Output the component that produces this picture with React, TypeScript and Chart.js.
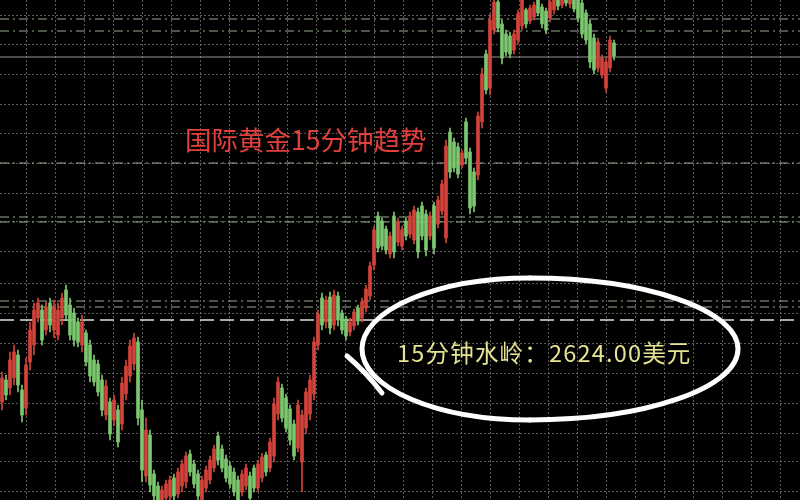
import React, { useEffect, useRef } from "react";
import { Chart, registerables } from "chart.js";

Chart.register(...registerables);

// ---- Data (15-minute gold candles, USD/oz) ----
const opens = [
  2615.8, 2618.0, 2617.2, 2618.2, 2620.5, 2617.0, 2615.2, 2619.8, 2621.5, 2624.2,
  2625.0, 2623.0, 2625.7, 2623.0, 2622.5, 2624.2, 2627.0, 2625.5, 2624.7, 2623.8,
  2621.5, 2622.7, 2621.5, 2620.0, 2619.6, 2618.0, 2614.5, 2615.8, 2614.0, 2615.0,
  2613.6, 2616.6, 2618.4, 2619.6, 2621.8, 2615.0, 2608.4, 2612.5, 2608.6, 2607.4,
  2605.8, 2606.2, 2606.4, 2608.2, 2606.6, 2607.4, 2607.8, 2610.6, 2609.6, 2608.6,
  2606.0, 2607.2, 2608.0, 2609.2, 2612.4, 2611.1, 2610.1, 2609.4, 2608.8, 2608.0,
  2606.8, 2607.4, 2608.4, 2609.2, 2607.2, 2608.2, 2610.5, 2609.2, 2610.4, 2614.6,
  2617.2, 2616.2, 2615.1, 2613.6, 2611.2, 2609.8, 2613.2, 2614.6, 2616.6, 2621.5,
  2626.2, 2623.8, 2626.3, 2623.5, 2626.4, 2624.7, 2624.1, 2622.8, 2623.4, 2625.2,
  2624.2, 2625.2, 2626.4, 2629.5, 2634.4, 2633.9, 2633.1, 2630.6, 2634.4, 2631.8,
  2631.4, 2633.9, 2632.6, 2632.0, 2634.8, 2635.4, 2634.6, 2632.4, 2635.4, 2633.6,
  2634.9, 2632.2, 2642.8, 2641.8, 2641.3, 2639.5, 2643.8, 2640.8, 2638.8, 2638.5,
  2643.8, 2650.6, 2647.2, 2653.0, 2655.8, 2653.6, 2652.6, 2652.4, 2651.0, 2652.0,
  2653.4, 2655.0, 2653.9, 2654.3, 2656.0, 2655.3, 2654.9, 2654.2, 2655.0, 2656.4,
  2655.5, 2656.6, 2655.6, 2656.4, 2656.0, 2655.7, 2654.7, 2653.6, 2652.2, 2649.2,
  2648.5, 2647.2, 2649.2, 2651.7,
];
const highs = [
  2618.8, 2618.5, 2620.8, 2621.5, 2621.0, 2617.5, 2620.2, 2623.8, 2625.7, 2626.2,
  2625.5, 2625.8, 2626.2, 2626.0, 2625.7, 2626.7, 2627.5, 2626.2, 2625.2, 2624.2,
  2624.5, 2623.0, 2622.0, 2620.5, 2620.0, 2618.5, 2618.0, 2616.2, 2616.5, 2615.5,
  2618.3, 2620.0, 2622.0, 2622.7, 2622.3, 2616.0, 2614.2, 2613.0, 2609.0, 2607.8,
  2607.4, 2608.0, 2608.4, 2608.6, 2609.2, 2610.0, 2610.8, 2611.0, 2610.0, 2609.0,
  2608.4, 2609.4, 2610.4, 2611.5, 2612.8, 2611.5, 2610.5, 2609.8, 2609.2, 2608.4,
  2609.0, 2609.6, 2608.8, 2609.5, 2610.0, 2610.7, 2610.8, 2612.2, 2616.2, 2618.3,
  2617.6, 2616.6, 2615.5, 2614.0, 2616.0, 2615.0, 2617.2, 2618.5, 2622.3, 2625.0,
  2626.7, 2626.4, 2626.8, 2627.0, 2626.8, 2625.0, 2624.4, 2624.2, 2625.1, 2625.5,
  2626.2, 2627.5, 2629.8, 2633.4, 2634.8, 2634.2, 2633.4, 2632.8, 2634.8, 2634.2,
  2633.4, 2634.2, 2634.8, 2635.4, 2635.2, 2635.8, 2635.0, 2634.8, 2635.8, 2636.4,
  2638.0, 2642.0, 2643.2, 2642.2, 2641.7, 2641.0, 2644.2, 2641.2, 2639.2, 2644.8,
  2649.2, 2651.0, 2654.6, 2656.5, 2656.2, 2654.0, 2653.0, 2652.8, 2653.0, 2655.0,
  2656.4, 2655.2, 2655.5, 2655.8, 2656.4, 2655.6, 2655.2, 2656.2, 2656.6, 2656.8,
  2656.8, 2657.0, 2657.0, 2656.8, 2656.4, 2656.0, 2655.0, 2654.0, 2652.6, 2652.2,
  2650.5, 2650.2, 2652.4, 2652.0,
];
const lows = [
  2615.0, 2616.0, 2616.5, 2617.5, 2616.8, 2613.8, 2614.5, 2619.0, 2620.5, 2623.8,
  2621.5, 2622.5, 2622.8, 2622.2, 2622.0, 2623.5, 2624.0, 2622.0, 2621.4, 2621.3,
  2620.8, 2619.4, 2617.8, 2617.4, 2616.4, 2614.4, 2614.0, 2612.0, 2613.4, 2611.3,
  2613.0, 2616.0, 2617.8, 2619.0, 2613.5, 2607.8, 2607.8, 2606.8, 2606.0, 2605.5,
  2605.5, 2605.7, 2606.0, 2606.0, 2606.2, 2606.8, 2607.2, 2608.4, 2607.2, 2606.0,
  2605.5, 2606.8, 2607.6, 2608.8, 2609.5, 2608.8, 2607.8, 2607.2, 2606.4, 2605.6,
  2606.4, 2607.0, 2605.8, 2606.8, 2606.8, 2607.8, 2608.4, 2608.8, 2609.8, 2614.0,
  2613.8, 2612.8, 2611.5, 2610.0, 2610.8, 2606.8, 2612.6, 2614.0, 2616.0, 2621.0,
  2623.0, 2623.2, 2622.6, 2623.0, 2623.4, 2622.6, 2622.0, 2622.4, 2623.0, 2623.5,
  2623.8, 2624.8, 2626.0, 2629.0, 2630.8, 2631.0, 2630.6, 2630.2, 2630.2, 2631.4,
  2631.0, 2632.0, 2632.2, 2631.6, 2630.2, 2632.0, 2630.4, 2632.0, 2630.6, 2633.2,
  2634.5, 2631.7, 2638.2, 2638.8, 2638.2, 2639.2, 2639.6, 2634.6, 2634.8, 2638.0,
  2643.2, 2646.6, 2646.5, 2652.6, 2652.8, 2649.6, 2650.4, 2650.2, 2650.6, 2651.6,
  2653.0, 2653.2, 2653.6, 2654.0, 2654.4, 2653.2, 2652.6, 2653.8, 2654.6, 2655.0,
  2655.2, 2655.4, 2655.2, 2654.8, 2653.8, 2652.2, 2651.6, 2649.2, 2648.6, 2648.8,
  2648.2, 2646.8, 2648.8, 2650.0,
];
const closes = [
  2618.2, 2616.5, 2620.0, 2620.8, 2617.5, 2614.5, 2619.5, 2623.0, 2625.0, 2625.7,
  2622.0, 2625.3, 2623.5, 2625.4, 2625.0, 2626.2, 2624.5, 2622.5, 2622.0, 2621.8,
  2623.8, 2619.8, 2618.4, 2617.8, 2616.8, 2615.0, 2617.4, 2612.6, 2616.0, 2611.8,
  2617.7, 2619.4, 2621.4, 2622.2, 2614.2, 2609.0, 2613.0, 2607.5, 2606.4, 2606.0,
  2607.0, 2607.6, 2608.0, 2606.4, 2608.8, 2609.6, 2610.4, 2608.8, 2607.6, 2606.4,
  2608.0, 2609.0, 2610.0, 2611.1, 2610.0, 2609.2, 2608.2, 2607.6, 2606.8, 2606.0,
  2608.6, 2609.2, 2606.2, 2607.2, 2609.6, 2610.3, 2608.8, 2611.8, 2615.6, 2617.8,
  2614.2, 2613.2, 2612.0, 2610.4, 2615.5, 2614.5, 2616.8, 2618.0, 2621.8, 2624.6,
  2623.5, 2626.0, 2623.2, 2626.5, 2624.0, 2623.0, 2622.4, 2623.8, 2624.8, 2623.9,
  2625.8, 2627.1, 2629.4, 2633.0, 2631.2, 2631.4, 2631.0, 2632.4, 2630.8, 2633.8,
  2633.0, 2632.4, 2634.4, 2635.0, 2630.8, 2632.4, 2631.0, 2634.4, 2631.2, 2636.0,
  2637.6, 2641.4, 2638.8, 2639.2, 2638.6, 2640.7, 2640.2, 2635.2, 2635.4, 2644.4,
  2648.6, 2647.0, 2654.0, 2655.8, 2653.2, 2650.2, 2650.8, 2650.6, 2652.6, 2654.6,
  2656.0, 2653.6, 2655.2, 2655.5, 2654.7, 2653.6, 2653.0, 2655.8, 2656.2, 2655.4,
  2656.4, 2655.7, 2656.6, 2655.1, 2654.2, 2652.6, 2652.0, 2649.8, 2649.0, 2651.8,
  2650.2, 2649.8, 2652.0, 2650.4,
];

// Horizontal reference levels drawn on the chart
const dashDotLevels = [2654.1, 2652.9, 2639.7, 2634.3, 2633.8, 2625.9, 2625.3];
const solidLevels = [2650.3];
const keyLevel = 2624.0;

// Grid positions (price and bar-index units)
const yGridValues = [
  2654.5, 2651.5, 2648.6, 2645.6, 2642.7, 2639.7, 2636.7, 2633.8, 2630.8,
  2627.7, 2624.7, 2621.7, 2618.7, 2615.7, 2612.7, 2609.8, 2606.8,
];
const xGridValues = [
  2.5, 9.75, 17, 24.25, 31.5, 38.75, 46, 53.25, 60.5, 67.75, 75, 82.25, 89.5,
  96.75, 104, 111.25, 118.5, 125.75, 133, 140.25, 147.5, 154.75, 162, 169.25,
  176.5, 183.75, 191, 198.25,
];

const titleText = "国际黄金15分钟趋势";
const noteText = "15分钟水岭：2624.00美元";

const X_MIN = -0.5;
const X_MAX = 199.5;
const Y_MIN = 2606;
const Y_MAX = 2656;

const UP = "#d4433b";
const DOWN = "#7cc86e";

export default function App() {
  const ref = useRef<HTMLCanvasElement | null>(null);

  useEffect(() => {
    const canvas = ref.current;
    if (!canvas) return;
    const idx = opens.map((_, i) => i);
    const colors = idx.map((i) => (closes[i] >= opens[i] ? UP : DOWN));

    const hLine = (v: number, color: string, dash: number[], width: number, label: string) => ({
      type: "line" as const,
      label,
      data: [
        { x: X_MIN, y: v },
        { x: X_MAX, y: v },
      ],
      borderColor: color,
      borderDash: dash,
      borderWidth: width,
      pointRadius: 0,
      order: 5,
    });

    const bg = {
      id: "bg",
      beforeDraw(chart: any) {
        const c = chart.ctx;
        c.save();
        c.fillStyle = "#000";
        c.fillRect(0, 0, chart.width, chart.height);
        c.restore();
      },
    };

    const notes = {
      id: "notes",
      afterDraw(chart: any) {
        const c = chart.ctx;
        c.save();
        c.textBaseline = "middle";
        c.fillStyle = "#e2403c";
        c.font = '26.5px "Noto Sans CJK SC"';
        c.fillText(titleText, 185, 140);

        c.strokeStyle = "#ffffff";
        c.lineWidth = 5;
        c.lineCap = "round";
        // right half (rounder, wider) and left half (narrower)
        c.beginPath();
        c.ellipse(530, 349, 208, 71, 0, -Math.PI / 2, Math.PI / 2);
        c.stroke();
        c.beginPath();
        c.ellipse(530, 349, 168, 71, 0, Math.PI / 2, Math.PI * 1.5);
        c.stroke();
        c.beginPath();
        c.moveTo(347, 356);
        c.quadraticCurveTo(366, 372, 382, 393);
        c.stroke();

        c.fillStyle = "#e6e394";
        c.font = '23.5px "Noto Sans CJK SC"';
        try {
          (c as any).letterSpacing = "1.2px";
        } catch (e) {}
        c.fillText(noteText, 397, 353);
        c.restore();
      },
    };

    const chart = new Chart(canvas, {
      type: "bar",
      data: {
        datasets: [
          {
            type: "bar",
            label: "影线",
            data: idx.map((i) => ({ x: i, y: [lows[i], highs[i]] })) as any,
            backgroundColor: colors,
            barThickness: 1,
            grouped: false,
            order: 2,
          } as any,
          {
            type: "bar",
            label: "实体",
            data: idx.map((i) => ({ x: i, y: [opens[i], closes[i]] })) as any,
            backgroundColor: colors,
            barThickness: 3,
            minBarLength: 1,
            grouped: false,
            order: 1,
          } as any,
          ...dashDotLevels.map((v) => hLine(v, "rgba(175,205,165,0.85)", [9, 4, 2, 4], 1.2, "level")),
          ...solidLevels.map((v) => hLine(v, "rgba(185,185,185,0.8)", [], 1, "level")),
          hLine(keyLevel, "rgba(235,235,235,0.95)", [14, 6], 1.5, "2624"),
        ] as any,
      },
      options: {
        animation: false,
        responsive: false,
        maintainAspectRatio: false,
        layout: { padding: 0 },
        plugins: {
          legend: { display: false },
          tooltip: { enabled: false },
          title: { display: false },
        },
        scales: {
          x: {
            type: "linear",
            min: X_MIN,
            max: X_MAX,
            offset: false,
            afterBuildTicks: (s: any) => {
              s.ticks = xGridValues.map((v) => ({ value: v }));
            },
            ticks: { display: false },
            grid: { color: "rgba(150,150,150,0.6)", drawTicks: false, lineWidth: 1 },
            border: { display: false, dash: [2, 2] },
          },
          y: {
            type: "linear",
            min: Y_MIN,
            max: Y_MAX,
            afterBuildTicks: (s: any) => {
              s.ticks = yGridValues.map((v) => ({ value: v }));
            },
            ticks: { display: false },
            grid: { color: "rgba(150,150,150,0.6)", drawTicks: false, lineWidth: 1 },
            border: { display: false, dash: [2, 2] },
          },
        },
      } as any,
      plugins: [bg, notes],
    });
    return () => chart.destroy();
  }, []);

  return (
    <div style={{ position: "fixed", left: 0, top: 0, width: 800, height: 500, background: "#000" }}>
      <canvas ref={ref} width={800} height={500} style={{ display: "block", width: 800, height: 500 }} />
    </div>
  );
}
